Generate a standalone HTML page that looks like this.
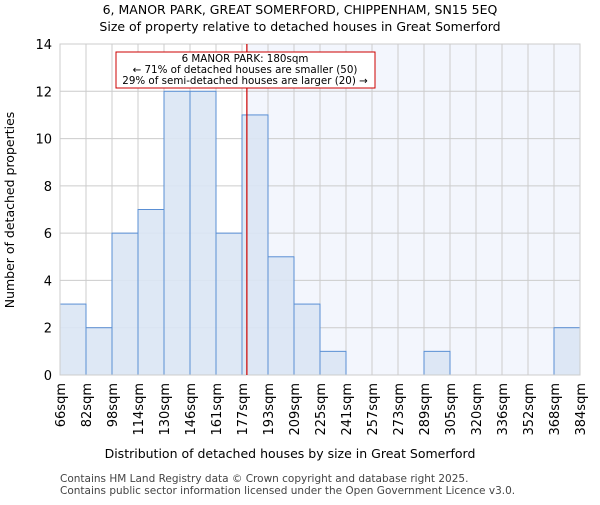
<!DOCTYPE html>
<html><head><meta charset="utf-8"><style>body{margin:0;background:#fff}svg{font-family:"DejaVu Sans","Liberation Sans",sans-serif}</style></head>
<body>
<svg id="c" width="600" height="500"></svg>
<script>
const categories=["66sqm","82sqm","98sqm","114sqm","130sqm","146sqm","161sqm","177sqm","193sqm","209sqm","225sqm","241sqm","257sqm","273sqm","289sqm","305sqm","320sqm","336sqm","352sqm","368sqm","384sqm"];
const counts=[3,2,6,7,12,12,6,11,5,3,1,0,0,0,1,0,0,0,0,2];
const yTicks=[0,2,4,6,8,10,12,14];
const marker=180;
const edges=[66,82,98,114,130,146,161,177,193,209,225,241,257,273,289,305,320,336,352,368,384];
const NS="http://www.w3.org/2000/svg",svg=document.getElementById('c');
const X0=60,X1=580,Y0=375,Y1=44;
const bw=(X1-X0)/counts.length;
const xi=i=>X0+i*bw;
const y=v=>Y0-(v/14)*(Y0-Y1);
function xv(v){for(let i=0;i<edges.length-1;i++){if(v<=edges[i+1])return xi(i)+(v-edges[i])/(edges[i+1]-edges[i])*bw;}return X1;}
function mk(t,a,p){const e=document.createElementNS(NS,t);for(const k in a)e.setAttribute(k,a[k]);(p||svg).appendChild(e);return e;}
const mx=xv(marker);
let r=mk('rect',{x:mx,y:Y1,width:X1-mx,height:Y0-Y1,fill:'#f3f6fd'});


yTicks.forEach(v=>{let l=mk('line',{x1:X0,x2:X1,y1:y(v),y2:y(v),stroke:'#ccc'});


let t=mk('text',{x:X0-8,y:y(v)+5,'text-anchor':'end','font-size':13});t.textContent=v;

});
categories.forEach((c,i)=>{let l=mk('line',{x1:xi(i),x2:xi(i),y1:Y1,y2:Y0,stroke:'#ccc'});


let t=mk('text',{x:0,y:0,'text-anchor':'end','font-size':13,transform:`translate(${xi(i)+5},${Y0+8}) rotate(-90)`});t.textContent=c;

});
counts.forEach((v,i)=>{if(v<=0)return;let b=mk('rect',{x:xi(i),y:y(v),width:bw,height:Y0-y(v),fill:'#dae5f4',stroke:'#5a8fd4','stroke-width':1,'fill-opacity':0.9});

});
let fr=mk('rect',{x:X0,y:Y1,width:X1-X0,height:Y0-Y1,fill:'none',stroke:'#ccc'});


let ml=mk('line',{x1:mx,x2:mx,y1:Y1,y2:Y0,stroke:'#c00','stroke-width':1.2});


let g=mk('g',{});


mk('rect',{x:116,y:52,width:259,height:36,fill:'#fff',stroke:'#c00'},g);
[["6 MANOR PARK: 180sqm",62],["← 71% of detached houses are smaller (50)",73],["29% of semi-detached houses are larger (20) →",84]].forEach(([s,yy])=>{let t=mk('text',{x:245,y:yy,'text-anchor':'middle','font-size':10.3},g);t.textContent=s;});
function txt(s,a,n){let t=mk('text',a);t.textContent=s;}
txt("6, MANOR PARK, GREAT SOMERFORD, CHIPPENHAM, SN15 5EQ",{x:300,y:14,'text-anchor':'middle','font-size':12.5},'chart-title');
txt("Size of property relative to detached houses in Great Somerford",{x:300,y:31,'text-anchor':'middle','font-size':12.5},'chart-subtitle');
txt("Distribution of detached houses by size in Great Somerford",{x:290,y:458,'text-anchor':'middle','font-size':12.5},'x-axis-title');
txt("Number of detached properties",{x:0,y:0,'text-anchor':'middle','font-size':12.5,transform:'translate(14,210) rotate(-90)'},'y-axis-title');
txt("Contains HM Land Registry data © Crown copyright and database right 2025.",{x:60,y:482,'font-size':10.5,fill:'#444'},'footer-line-1');
txt("Contains public sector information licensed under the Open Government Licence v3.0.",{x:60,y:494,'font-size':10.5,fill:'#444'},'footer-line-2');
</script>
</body></html>
